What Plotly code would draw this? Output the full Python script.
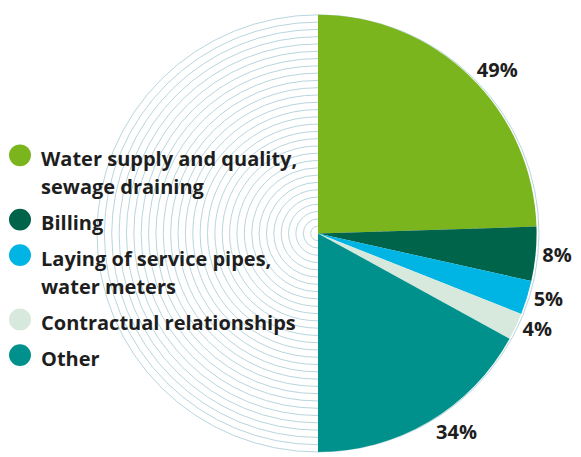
import plotly.graph_objects as go

# ---- data ----
categories = ["Water supply and quality,<br>sewage draining", "Billing",
              "Laying of service pipes,<br>water meters", "Contractual relationships", "Other"]
values = [49, 8, 5, 4, 34]
colors = ["#7ab51e", "#00644a", "#00b4e4", "#d7e8dc", "#00918c"]

W, H = 581, 457
CX, CY, R = 318, 236, 221  # pie centre / radius in px (from top-left)
FONT = dict(family="Open Sans", size=20, color="#1e1e1e", weight=700)

# full circle: the visible half pie + an invisible filler half
pie_values = values + [sum(values)]
pie_colors = colors + ["rgba(0,0,0,0)"]
pie_text = [f"{v}%" for v in values] + [""]

fig = go.Figure()
fig.add_trace(go.Pie(
    values=pie_values,
    labels=[c.replace("<br>", " ") for c in categories] + ["filler"],
    sort=False, direction="clockwise", rotation=0,
    marker=dict(colors=pie_colors, line=dict(width=0)),
    text=pie_text, textinfo="text", textposition="outside",
    textfont=FONT,
    hoverinfo="skip", showlegend=False,
    domain=dict(x=[(CX - R) / W, (CX + R) / W],
                y=[(H - CY - R) / H, (H - CY + R) / H]),
))

shapes = []
# decorative concentric circles
n_rings = 30
for i in range(1, n_rings + 1):
    r = R * i / n_rings
    shapes.append(dict(type="circle", xref="paper", yref="paper", layer="below",
                       x0=(CX - r) / W, x1=(CX + r) / W,
                       y0=(H - CY - r) / H, y1=(H - CY + r) / H,
                       line=dict(color="#b8d6de", width=1)))

# custom legend with round markers
annotations = []
y = 158
LINE, GAP, MR = 29, 36, 11
for cat, col in zip(categories, colors):
    lines = cat.split("<br>")
    cy = y - 1
    shapes.append(dict(type="circle", xref="paper", yref="paper",
                       x0=(20 - MR) / W, x1=(20 + MR) / W,
                       y0=(H - cy - MR) / H, y1=(H - cy + MR) / H,
                       fillcolor=col, line=dict(width=0)))
    for j, ln in enumerate(lines):
        annotations.append(dict(text=ln, xref="paper", yref="paper",
                                x=39 / W, y=(H - (y + 2 + j * LINE)) / H,
                                xanchor="left", yanchor="middle", showarrow=False,
                                font=FONT))
    y += LINE * (len(lines) - 1) + GAP

fig.update_layout(width=W, height=H, margin=dict(l=0, r=0, t=0, b=0),
                  paper_bgcolor="white", plot_bgcolor="white",
                  shapes=shapes, annotations=annotations, showlegend=False)

fig.write_html("out.html", config={"displayModeBar": False},
               post_script="document.body.style.margin='0';")
